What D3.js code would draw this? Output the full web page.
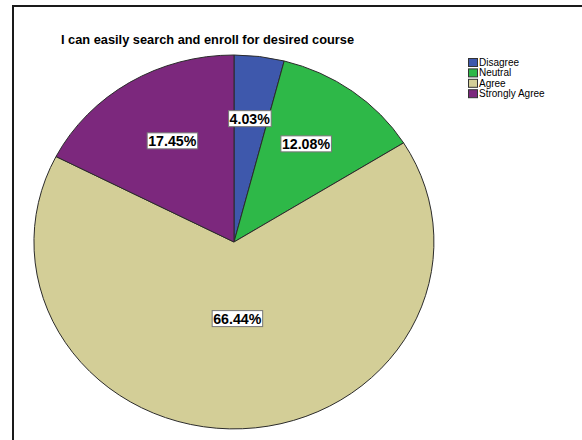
<!DOCTYPE html>
<html>
<head>
<meta charset="utf-8">
<script src="https://cdn.jsdelivr.net/npm/d3@7"></script>
<style>
  html, body { margin: 0; padding: 0; background: #fff; }
  svg { display: block; font-family: "Liberation Sans", Arial, sans-serif; }
</style>
</head>
<body>
<svg id="chart" width="582" height="440"></svg>
<script>
// Survey responses for one item, in percent
const title = "I can easily search and enroll for desired course";
const categories = ["Disagree", "Neutral", "Agree", "Strongly Agree"];
const percents = [4.03, 12.08, 66.44, 17.45];
const colors = ["#3E58AC", "#2EB848", "#D3CE97", "#7C287D"];

const svg = d3.select("#chart");

// outer frame
svg.append("rect")
  .attr("x", 13).attr("y", 6)
  .attr("width", 620).attr("height", 500)
  .attr("fill", "#fff")
  .attr("stroke", "#1a1a1a")
  .attr("stroke-width", 2);

svg.append("text")
  .attr("x", 61).attr("y", 44)
  .attr("font-size", 12.8)
  .attr("font-weight", "bold")
  .attr("fill", "#000")
  .text(title);

// elliptical pie: unit-circle arcs stretched to rx × ry
const cx = 234, cy = 242, rx = 200, ry = 187;

const pie = d3.pie().sort(null).value(d => d)
  .startAngle(0).endAngle(2 * Math.PI);
const arcs = pie(percents);
const arc = d3.arc().innerRadius(0).outerRadius(1);

const g = svg.append("g")
  .attr("transform", `translate(${cx},${cy}) scale(${rx},${ry})`);

g.selectAll("path")
  .data(arcs)
  .join("path")
  .attr("d", arc)
  .attr("fill", (d, i) => colors[i])
  .attr("stroke", "#2b2b2b")
  .attr("stroke-width", 1)
  .attr("vector-effect", "non-scaling-stroke");

// labels at the slice centroid on the inner circle (clamped away from the centre for big slices)
const labels = svg.append("g");
arcs.forEach((d, i) => {
  const a = d.endAngle - d.startAngle;
  const mid = (d.startAngle + d.endAngle) / 2;
  let frac = 4 * Math.sin(a / 2) / (3 * a);
  frac = Math.max(frac, 0.41);
  const x = cx + frac * ry * Math.sin(mid);
  const y = cy - frac * ry * Math.cos(mid);
  const lg = labels.append("g").attr("transform", `translate(${x},${y})`);
  const txt = lg.append("text")
    .attr("text-anchor", "middle")
    .attr("dy", "0.36em")
    .attr("font-size", 14.2)
    .attr("font-weight", "bold")
    .attr("fill", "#000")
    .text(d3.format(".2f")(percents[i]) + "%");
  const bb = txt.node().getBBox();
  lg.insert("rect", "text")
    .attr("x", bb.x - 1).attr("y", -8)
    .attr("width", bb.width + 2).attr("height", 16)
    .attr("fill", "#fff")
    .attr("stroke", "#777")
    .attr("stroke-width", 1);
});

// legend
const legend = svg.append("g").attr("transform", "translate(468,58)");
categories.forEach((c, i) => {
  const row = legend.append("g").attr("transform", `translate(0,${i * 10.4})`);
  row.append("rect")
    .attr("x", 0.5).attr("y", 0.5)
    .attr("width", 9).attr("height", 8)
    .attr("fill", colors[i])
    .attr("stroke", "#333")
    .attr("stroke-width", 1);
  row.append("text")
    .attr("x", 11).attr("y", 8)
    .attr("font-size", 10)
    .attr("fill", "#000")
    .text(c);
});
</script>
</body>
</html>
